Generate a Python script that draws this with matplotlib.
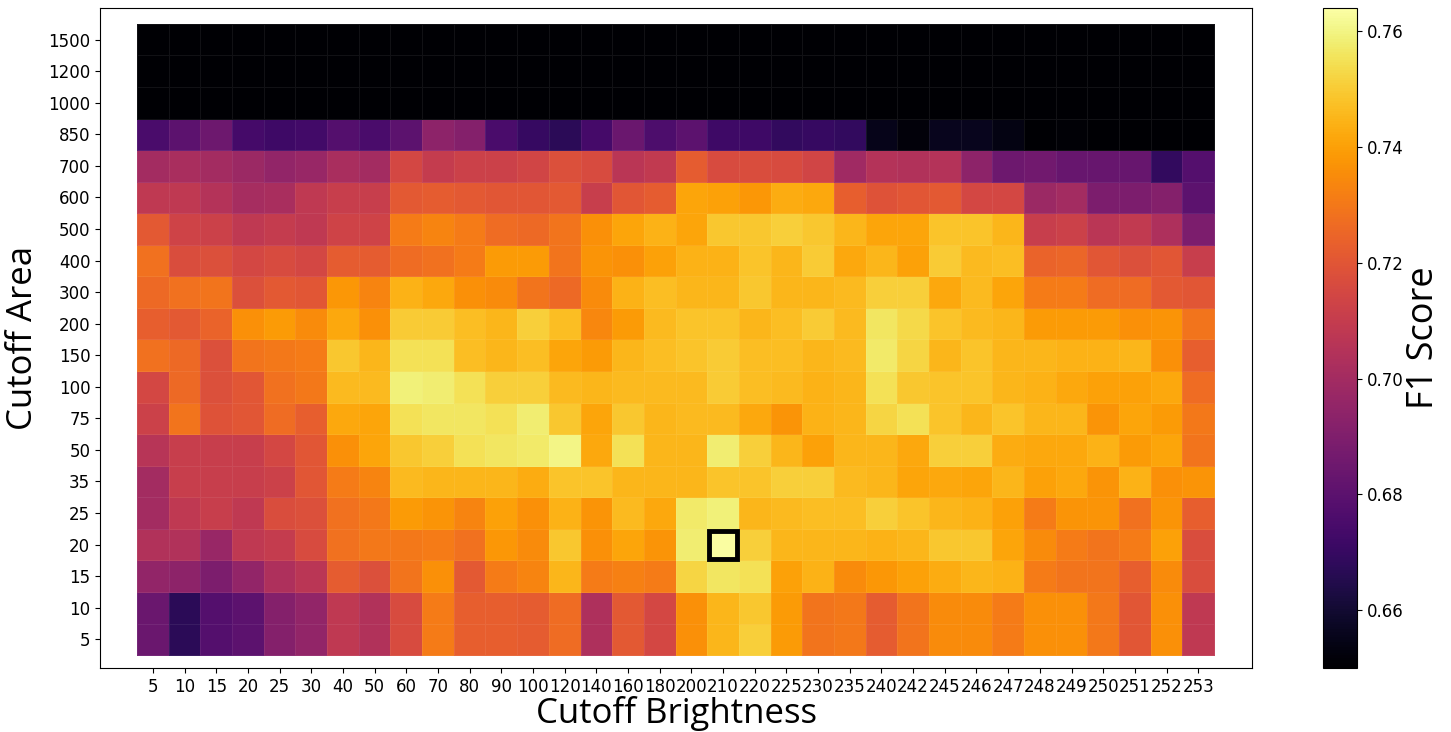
import numpy as np
import matplotlib
matplotlib.use("Agg")
import matplotlib.pyplot as plt
from matplotlib.patches import Rectangle

brightness = [5, 10, 15, 20, 25, 30, 40, 50, 60, 70, 80, 90, 100, 120, 140, 160, 180,
              200, 210, 220, 225, 230, 235, 240, 242, 245, 246, 247, 248, 249, 250,
              251, 252, 253]
areas = [5, 10, 15, 20, 25, 35, 50, 75, 100, 150, 200, 300, 400, 500, 600, 700, 850,
         1000, 1200, 1500]

# F1 scores, one list per cutoff area (top row of the chart first)
f1_1500 = [0.650] * 34
f1_1200 = [0.650] * 34
f1_1000 = [0.650] * 34
f1_850 = [0.675, 0.680, 0.685, 0.674, 0.672, 0.673, 0.678, 0.675, 0.680, 0.694, 0.691, 0.675,
          0.670, 0.667, 0.674, 0.684, 0.676, 0.680, 0.672, 0.672, 0.669, 0.670, 0.669, 0.655,
          0.652, 0.656, 0.656, 0.654, 0.650, 0.651, 0.650, 0.650, 0.650, 0.650]
f1_700 = [0.700, 0.702, 0.700, 0.698, 0.695, 0.697, 0.702, 0.700, 0.715, 0.710, 0.712, 0.712,
          0.714, 0.718, 0.716, 0.707, 0.709, 0.722, 0.716, 0.717, 0.716, 0.714, 0.699, 0.705,
          0.704, 0.705, 0.694, 0.685, 0.686, 0.683, 0.683, 0.683, 0.669, 0.678]
f1_600 = [0.708, 0.708, 0.705, 0.701, 0.702, 0.708, 0.711, 0.711, 0.721, 0.722, 0.721, 0.720,
          0.720, 0.721, 0.711, 0.720, 0.722, 0.741, 0.740, 0.738, 0.743, 0.742, 0.723, 0.719,
          0.720, 0.721, 0.715, 0.715, 0.698, 0.700, 0.689, 0.689, 0.691, 0.680]
f1_500 = [0.721, 0.713, 0.712, 0.708, 0.710, 0.708, 0.713, 0.713, 0.731, 0.733, 0.731, 0.727,
          0.726, 0.729, 0.736, 0.741, 0.744, 0.741, 0.749, 0.749, 0.751, 0.749, 0.745, 0.741,
          0.741, 0.748, 0.748, 0.745, 0.711, 0.712, 0.707, 0.709, 0.703, 0.689]
f1_400 = [0.728, 0.717, 0.718, 0.715, 0.716, 0.715, 0.722, 0.722, 0.727, 0.728, 0.731, 0.739,
          0.739, 0.729, 0.737, 0.736, 0.740, 0.744, 0.744, 0.748, 0.745, 0.750, 0.742, 0.745,
          0.740, 0.750, 0.746, 0.747, 0.724, 0.725, 0.720, 0.718, 0.720, 0.711]
f1_300 = [0.726, 0.728, 0.729, 0.718, 0.721, 0.720, 0.738, 0.733, 0.744, 0.742, 0.736, 0.735,
          0.729, 0.726, 0.735, 0.744, 0.747, 0.745, 0.745, 0.749, 0.745, 0.745, 0.746, 0.751,
          0.751, 0.742, 0.746, 0.741, 0.731, 0.731, 0.727, 0.727, 0.721, 0.720]
f1_200 = [0.723, 0.721, 0.724, 0.736, 0.739, 0.735, 0.742, 0.736, 0.750, 0.750, 0.747, 0.745,
          0.751, 0.747, 0.734, 0.739, 0.746, 0.748, 0.748, 0.745, 0.747, 0.750, 0.746, 0.756,
          0.753, 0.748, 0.746, 0.745, 0.739, 0.739, 0.739, 0.736, 0.737, 0.729]
f1_150 = [0.728, 0.726, 0.718, 0.729, 0.730, 0.731, 0.749, 0.745, 0.755, 0.755, 0.747, 0.745,
          0.747, 0.741, 0.739, 0.745, 0.747, 0.748, 0.750, 0.747, 0.747, 0.745, 0.746, 0.757,
          0.752, 0.745, 0.748, 0.745, 0.745, 0.744, 0.744, 0.745, 0.736, 0.723]
f1_100 = [0.715, 0.726, 0.718, 0.720, 0.728, 0.730, 0.746, 0.746, 0.759, 0.758, 0.755, 0.751,
          0.751, 0.746, 0.745, 0.746, 0.746, 0.746, 0.750, 0.747, 0.746, 0.744, 0.745, 0.755,
          0.749, 0.748, 0.748, 0.745, 0.744, 0.742, 0.740, 0.740, 0.742, 0.727]
f1_75 = [0.712, 0.729, 0.719, 0.720, 0.727, 0.723, 0.742, 0.741, 0.755, 0.756, 0.756, 0.755,
         0.758, 0.749, 0.741, 0.749, 0.745, 0.746, 0.746, 0.742, 0.737, 0.744, 0.745, 0.752,
         0.755, 0.748, 0.745, 0.748, 0.745, 0.745, 0.737, 0.741, 0.739, 0.730]
f1_50 = [0.706, 0.711, 0.711, 0.711, 0.715, 0.720, 0.736, 0.741, 0.749, 0.751, 0.755, 0.756,
         0.757, 0.760, 0.742, 0.755, 0.745, 0.745, 0.758, 0.751, 0.745, 0.740, 0.745, 0.745,
         0.742, 0.751, 0.751, 0.743, 0.742, 0.742, 0.744, 0.739, 0.741, 0.729]
f1_35 = [0.700, 0.711, 0.711, 0.711, 0.712, 0.720, 0.731, 0.733, 0.746, 0.745, 0.745, 0.745,
         0.743, 0.748, 0.748, 0.745, 0.745, 0.745, 0.748, 0.748, 0.751, 0.751, 0.746, 0.745,
         0.741, 0.742, 0.741, 0.745, 0.740, 0.742, 0.737, 0.744, 0.736, 0.737]
f1_25 = [0.700, 0.708, 0.711, 0.708, 0.717, 0.718, 0.728, 0.730, 0.739, 0.737, 0.733, 0.740,
         0.736, 0.744, 0.737, 0.746, 0.742, 0.757, 0.759, 0.745, 0.746, 0.747, 0.747, 0.751,
         0.748, 0.745, 0.744, 0.740, 0.731, 0.737, 0.737, 0.728, 0.737, 0.723]
f1_20 = [0.704, 0.704, 0.697, 0.708, 0.710, 0.716, 0.728, 0.730, 0.730, 0.731, 0.728, 0.738,
         0.735, 0.749, 0.736, 0.741, 0.737, 0.758, 0.7635, 0.751, 0.745, 0.745, 0.745, 0.744,
         0.745, 0.749, 0.749, 0.741, 0.735, 0.731, 0.729, 0.731, 0.740, 0.717]
f1_15 = [0.695, 0.694, 0.689, 0.695, 0.703, 0.707, 0.722, 0.718, 0.729, 0.736, 0.721, 0.731,
         0.733, 0.745, 0.731, 0.732, 0.731, 0.752, 0.756, 0.755, 0.740, 0.744, 0.735, 0.738,
         0.740, 0.743, 0.745, 0.744, 0.731, 0.729, 0.729, 0.723, 0.735, 0.717]
f1_10 = [0.684, 0.667, 0.678, 0.680, 0.691, 0.695, 0.708, 0.704, 0.716, 0.731, 0.723, 0.723,
         0.722, 0.727, 0.703, 0.721, 0.715, 0.736, 0.745, 0.749, 0.739, 0.729, 0.730, 0.722,
         0.729, 0.735, 0.735, 0.731, 0.736, 0.736, 0.730, 0.720, 0.736, 0.708]
f1_5 = [0.684, 0.667, 0.678, 0.680, 0.691, 0.695, 0.708, 0.704, 0.716, 0.731, 0.723, 0.723,
        0.722, 0.727, 0.703, 0.721, 0.715, 0.736, 0.745, 0.751, 0.739, 0.729, 0.730, 0.722,
        0.729, 0.735, 0.735, 0.731, 0.736, 0.736, 0.730, 0.720, 0.736, 0.708]

# best setting (highlighted)
best_brightness = 210
best_area = 20

rows = [f1_5, f1_10, f1_15, f1_20, f1_25, f1_35, f1_50, f1_75, f1_100, f1_150, f1_200,
        f1_300, f1_400, f1_500, f1_600, f1_700, f1_850, f1_1000, f1_1200, f1_1500]
Z = np.array(rows)

fig = plt.figure(figsize=(14.51, 7.32), dpi=100)
ax = fig.add_axes([0.0689, 0.0874, 0.794, 0.9016])
cax = fig.add_axes([0.9118, 0.0874, 0.0234, 0.9016])

mesh = ax.pcolormesh(np.arange(len(brightness) + 1), np.arange(len(areas) + 1), Z,
                     cmap='inferno', vmin=0.65, vmax=0.764,
                     edgecolors=(1, 1, 1, 0.07), linewidth=0.5)

bx = brightness.index(best_brightness)
by = areas.index(best_area)
ax.add_patch(Rectangle((bx + 0.06, by + 0.06), 0.88, 0.88, fill=False,
                       edgecolor='black', linewidth=3.5))

ax.set_xlim(-1.17, len(brightness) + 1.2)
ax.set_ylim(-0.41, len(areas) + 0.5)
ax.set_xticks(np.arange(len(brightness)) + 0.5)
ax.set_xticklabels([str(b) for b in brightness], fontsize=12)
ax.set_yticks(np.arange(len(areas)) + 0.5)
ax.set_yticklabels([str(a) for a in areas], fontsize=12)
ax.set_xlabel('Cutoff Brightness', fontsize=25, family='Open Sans', labelpad=0)
ax.set_ylabel('Cutoff Area', fontsize=25, family='Open Sans', labelpad=6)

cb = fig.colorbar(mesh, cax=cax)
cb.set_ticks([0.66, 0.68, 0.70, 0.72, 0.74, 0.76])
cb.ax.tick_params(labelsize=12)
cb.set_label('F1 Score', fontsize=26, family='Open Sans', labelpad=2)

fig.savefig('out.png', dpi=100)
